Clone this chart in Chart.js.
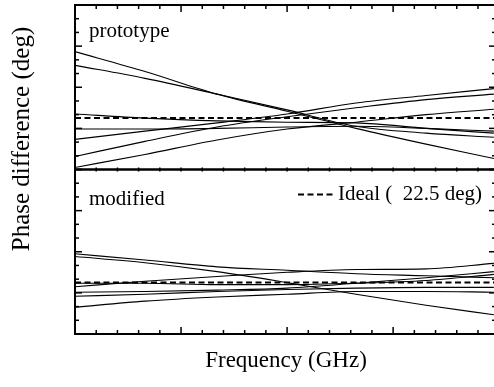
<!DOCTYPE html>
<html>
<head>
<meta charset="utf-8">
<script src="https://cdn.jsdelivr.net/npm/chart.js@4.4.0/dist/chart.umd.min.js"></script>
<style>
    html, body { margin: 0; padding: 0; background: #fff; overflow: hidden; }
    #wrap { position: relative; width: 500px; height: 387px; }
</style>
</head>
<body>
<div id="wrap"><canvas id="phaseChart" width="500" height="387"></canvas></div>
<script>
// -----------------------------
// Data
// -----------------------------
const freq = [0, 0.66, 1.34, 2.0, 2.65, 3.31, 3.95];

const prototypeSeries = [
    [32.2, 29.3, 26.0, 23.5, 21.0, 18.7, 16.6],
    [30.2, 28.3, 26.0, 23.7, 21.3, 20.3, 19.7],
    [23.1, 22.5, 22.1, 21.9, 21.8, 21.0, 20.3],
    [20.9, 20.9, 21.0, 21.2, 21.3, 21.0, 20.6],
    [19.4, 20.6, 21.8, 23.1, 24.7, 25.8, 26.8],
    [16.9, 19.1, 21.2, 22.7, 24.0, 25.2, 26.0],
    [15.3, 17.2, 19.3, 20.9, 21.9, 23.0, 23.8]
];

const modifiedSeries = [
    [26.7, 25.8, 24.8, 24.3, 23.8, 23.5, 23.2],
    [26.3, 25.4, 24.1, 22.5, 20.8, 19.2, 17.8],
    [21.9, 22.7, 23.4, 24.0, 24.4, 24.5, 25.3],
    [21.1, 21.2, 21.4, 21.7, 22.4, 23.2, 24.1],
    [20.5, 20.8, 21.2, 21.5, 21.7, 21.8, 21.8],
    [18.9, 19.8, 20.4, 20.8, 21.2, 21.2, 21.1],
    [22.4, 22.4, 22.2, 22.2, 22.4, 22.8, 23.7]
];

const idealPhase = 22.5;
const panelLabels = ['prototype', 'modified'];
const legendLabel = 'Ideal (  22.5 deg)';
const xTitle = 'Frequency (GHz)';
const yTitle = 'Phase difference (deg)';

// axis ranges / tick steps
const yMin = 15, yMax = 39, yStep = 2, yMajorEvery = 3;
const xMin = 0, xMax = 3.97, xStep = 0.2, xMajorEvery = 5;

// -----------------------------
// Helpers
// -----------------------------
const serif = '"Liberation Serif", "Times New Roman", serif';

function toPoints(ys) {
    return ys.map((y, i) => ({x: freq[i], y: y}));
}

function solidLine(ys, axisId) {
    return {
        data: toPoints(ys),
        yAxisID: axisId,
        borderColor: '#000',
        borderWidth: 1.1,
        pointRadius: 0,
        fill: false,
        cubicInterpolationMode: 'monotone'
    };
}

function idealLine(axisId) {
    return {
        data: [{x: xMin, y: idealPhase}, {x: xMax, y: idealPhase}],
        yAxisID: axisId,
        borderColor: '#000',
        borderWidth: 2,
        borderDash: [6, 3.5],
        pointRadius: 0,
        fill: false
    };
}

function strokeLine(ctx, x1, y1, x2, y2) {
    ctx.beginPath();
    ctx.moveTo(x1, y1);
    ctx.lineTo(x2, y2);
    ctx.stroke();
}

const datasets = [];
prototypeSeries.forEach(s => datasets.push(solidLine(s, 'yTop')));
datasets.push(idealLine('yTop'));
modifiedSeries.forEach(s => datasets.push(solidLine(s, 'yBot')));
datasets.push(idealLine('yBot'));

const hiddenAxis = {
    display: true,
    ticks: {display: false},
    grid: {display: false, drawTicks: false},
    border: {display: false}
};

// -----------------------------
// Frame, inward ticks and texts
// -----------------------------
const framePlugin = {
    id: 'frame',
    afterDraw(chart) {
        const ctx = chart.ctx;
        const area = chart.chartArea;
        const xs = chart.scales.x;
        ctx.save();
        ctx.strokeStyle = '#000';

        ['yTop', 'yBot'].forEach(id => {
            const ys = chart.scales[id];
            ctx.lineWidth = 2;
            ctx.strokeRect(area.left, ys.top, area.right - area.left, ys.bottom - ys.top);

            ctx.lineWidth = 1.5;
            for (let i = 0; yMin + i * yStep <= yMax; i++) {
                const py = ys.getPixelForValue(yMin + i * yStep);
                const len = i % yMajorEvery === 0 ? 7 : 4;
                strokeLine(ctx, area.left, py, area.left + len, py);
                strokeLine(ctx, area.right, py, area.right - len, py);
            }

            for (let i = 0; xMin + i * xStep <= xMax; i++) {
                const px = xs.getPixelForValue(xMin + i * xStep);
                const major = i % xMajorEvery === 0;
                if (id === 'yTop') {
                    strokeLine(ctx, px, ys.top, px, ys.top + (major ? 7 : 4));
                    strokeLine(ctx, px, ys.bottom, px, ys.bottom - 2);
                } else {
                    strokeLine(ctx, px, ys.bottom, px, ys.bottom - (major ? 7 : 4));
                    strokeLine(ctx, px, ys.top, px, ys.top + 2);
                }
            }
        });

        const top = chart.scales.yTop;
        const bot = chart.scales.yBot;

        ctx.fillStyle = '#000';
        ctx.font = '21px ' + serif;
        ctx.textBaseline = 'alphabetic';
        ctx.textAlign = 'left';
        ctx.fillText(panelLabels[0], area.left + 14, top.top + 32);
        ctx.fillText(panelLabels[1], area.left + 14, bot.top + 35);

        // legend for the ideal line
        ctx.lineWidth = 2;
        ctx.setLineDash([6, 3.5]);
        strokeLine(ctx, 298, bot.top + 25, 334, bot.top + 25);
        ctx.setLineDash([]);
        ctx.fillText(legendLabel, 338, bot.top + 30);

        // axis titles
        ctx.font = '23px ' + serif;
        ctx.textAlign = 'center';
        ctx.fillText(xTitle, 286, 367);
        ctx.font = '25px ' + serif;
        ctx.translate(22, 139);
        ctx.rotate(-Math.PI / 2);
        ctx.textBaseline = 'middle';
        ctx.fillText(yTitle, 0, 0);
        ctx.restore();
    }
};

new Chart(document.getElementById('phaseChart'), {
    type: 'line',
    data: {datasets: datasets},
    options: {
        responsive: false,
        animation: false,
        devicePixelRatio: 1,
        layout: {padding: {left: 75, right: 4, top: 5, bottom: 53}},
        plugins: {legend: {display: false}, tooltip: {enabled: false}},
        scales: {
            x: Object.assign({type: 'linear', min: xMin, max: xMax}, hiddenAxis),
            yBot: Object.assign({type: 'linear', position: 'left', stack: 'panels', stackWeight: 1, min: yMin, max: yMax}, hiddenAxis),
            yTop: Object.assign({type: 'linear', position: 'left', stack: 'panels', stackWeight: 1, min: yMin, max: yMax}, hiddenAxis)
        }
    },
    plugins: [framePlugin]
});
</script>
</body>
</html>
